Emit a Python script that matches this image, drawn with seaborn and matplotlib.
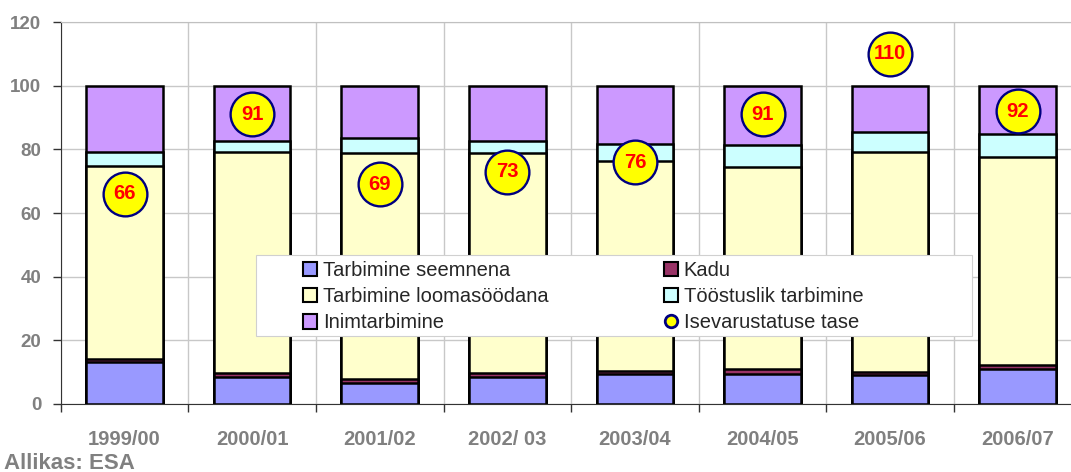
import matplotlib.pyplot as plt
import pandas as pd
import seaborn as sns
from matplotlib.lines import Line2D
from matplotlib.patches import Patch, Rectangle

years = ["1999/00", "2000/01", "2001/02", "2002/ 03", "2003/04", "2004/05", "2005/06", "2006/07"]
seemnena = [13.2, 8.4, 6.6, 8.6, 9.5, 9.3, 9.2, 11.1]
kadu = [1.0, 1.4, 1.1, 1.1, 0.8, 1.6, 0.8, 1.0]
looma = [60.6, 69.5, 71.0, 69.2, 66.1, 63.6, 69.2, 65.4]
toostus = [4.5, 3.4, 4.9, 3.6, 5.3, 6.9, 6.1, 7.3]
inim = [20.7, 17.3, 16.4, 17.5, 18.3, 18.6, 14.7, 15.2]
isevarustatus = [66, 91, 69, 73, 76, 91, 110, 92]

names = ["Tarbimine seemnena", "Kadu", "Tarbimine loomasöödana",
         "Tööstuslik tarbimine", "Inimtarbimine"]
colors = ["#9999FF", "#993366", "#FFFFCC", "#CCFFFF", "#CC99FF"]

sns.set_style("white")
plt.rcParams["font.family"] = ["Liberation Sans", "DejaVu Sans"]

df = pd.DataFrame(
    {"year": years, names[0]: seemnena, names[1]: kadu, names[2]: looma,
     names[3]: toostus, names[4]: inim}
).set_index("year")
cum = df.cumsum(axis=1).reset_index()

fig = plt.figure(figsize=(10.71, 4.72), dpi=100)
ax = fig.add_axes([60.7 / 1071, 68 / 472, 1020.8 / 1071, 382 / 472])

# stacked bars: draw cumulative totals from the top layer down
for name, col in reversed(list(zip(names, colors))):
    sns.barplot(data=cum, x="year", y=name, order=years, color=col,
                edgecolor="black", linewidth=1.8, width=0.6, saturation=1,
                ax=ax, zorder=2)

xs = list(range(len(years)))
ax.plot(xs, isevarustatus, "o", ms=31.5, mfc="#FFFF00", mec="#000080",
        mew=1.7, ls="none", zorder=5)
for x, v in zip(xs, isevarustatus):
    ax.text(x, v, str(v), ha="center", va="center", color="#FF0000",
            fontsize=14.5, fontweight="bold", zorder=6)

ax.set_xlim(-0.5, 7.5)
ax.set_ylim(0, 120)
ax.set_yticks(range(0, 121, 20))
ax.set_xticks(xs)
ax.set_xticklabels(years)
ax.set_xticks([i + 0.5 for i in range(-1, 8)], minor=True)
ax.set_xlabel(None)
ax.set_ylabel(None)

ax.set_axisbelow(True)
ax.grid(axis="y", color="#C8C8C8", lw=1)
ax.grid(axis="x", which="minor", color="#C8C8C8", lw=1)
ax.grid(axis="x", which="major", visible=False)
ax.tick_params(axis="x", which="major", length=0, pad=19, labelsize=14.5,
               labelcolor="#808080")
ax.tick_params(axis="x", which="minor", length=6, width=1, color="#333333",
               direction="out", bottom=True)
ax.tick_params(axis="y", length=6, width=1, color="#333333", direction="out",
               left=True, pad=8, labelsize=13.5, labelcolor="#808080")
for lab in ax.get_xticklabels() + ax.get_yticklabels():
    lab.set_fontweight("bold")

ax.spines["left"].set_color("#333333")
ax.spines["bottom"].set_color("#333333")
ax.spines["top"].set_color("#C0C0C0")
ax.spines["right"].set_visible(False)

# legend box
ax.add_patch(Rectangle((0.191, 0.179), 0.7015, 0.211, transform=ax.transAxes,
                       facecolor="white", edgecolor="#D0D0D0", lw=0.8, zorder=7))
handles = [
    Patch(facecolor=colors[0], edgecolor="black", lw=1.5),
    Patch(facecolor=colors[2], edgecolor="black", lw=1.5),
    Patch(facecolor=colors[4], edgecolor="black", lw=1.5),
    Patch(facecolor=colors[1], edgecolor="black", lw=1.5),
    Patch(facecolor=colors[3], edgecolor="black", lw=1.5),
    Line2D([], [], marker="o", ls="none", ms=9, mfc="#FFFF00", mec="#000080", mew=2),
]
labels = [names[0], names[2], names[4], names[1], names[3], "Isevarustatuse tase"]
leg = ax.legend(handles, labels, ncol=2, frameon=False, loc="upper left",
                bbox_to_anchor=(303 / 1071, 1 - 261 / 472),
                bbox_transform=fig.transFigure, borderpad=0, borderaxespad=0,
                fontsize=14.5, handlelength=0.7, handleheight=0.7,
                handletextpad=0.3, labelspacing=0.36, columnspacing=5.7)
leg.set_zorder(8)

fig.text(4 / 1071, 3 / 472, "Allikas: ESA", fontsize=16, fontweight="bold",
         color="#808080", ha="left", va="baseline")

fig.savefig("out.png", dpi=100)
